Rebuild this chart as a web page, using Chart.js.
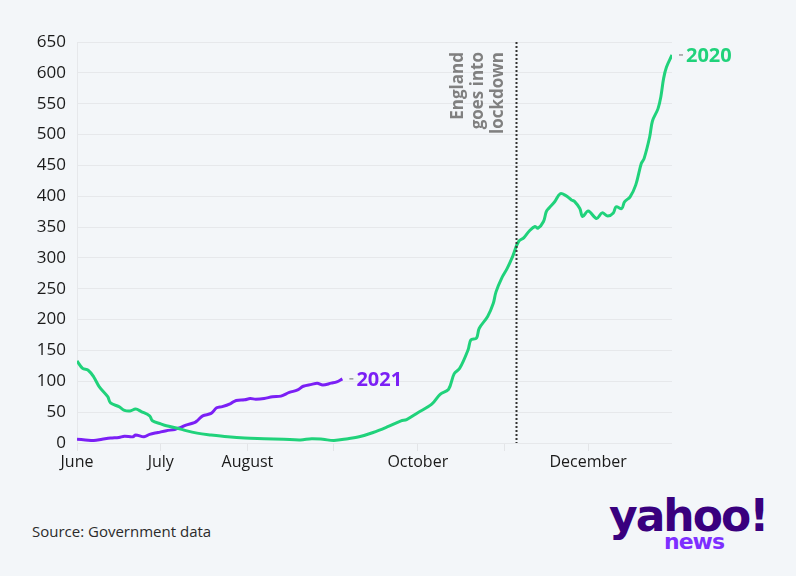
<!DOCTYPE html>
<html lang="en">
<head>
    <meta charset="UTF-8">
    <title>Cases 2020 vs 2021</title>
    <script src="https://cdn.jsdelivr.net/npm/chart.js"></script>
    <style>
        * { margin: 0; padding: 0; box-sizing: border-box; }
        body {
            width: 796px;
            height: 576px;
            background: #f3f6f9;
            position: relative;
            overflow: hidden;
            font-family: 'Open Sans', sans-serif;
        }
        .chart-box {
            position: absolute;
            left: 0;
            top: 0;
            width: 796px;
            height: 480px;
        }
        .source {
            position: absolute;
            left: 32px;
            top: 521px;
            font-size: 15px;
            color: #2b2b2b;
        }
        .logo {
            position: absolute;
            left: 609px;
            top: 494px;
            width: 170px;
            line-height: 1;
        }
        .logo .yahoo {
            font-family: 'DejaVu Sans', sans-serif;
            font-weight: bold;
            font-size: 44px;
            color: #39007e;
            letter-spacing: -2px;
            display: block;
        }
        .logo .news {
            font-family: 'DejaVu Sans', sans-serif;
            font-weight: bold;
            font-size: 22px;
            color: #7d2eff;
            display: block;
            margin-top: -7px;
            margin-left: 55px;
            letter-spacing: -1px;
        }
    </style>
</head>
<body>
    <div class="chart-box">
        <canvas id="casesChart"></canvas>
    </div>
    <div class="source">Source: Government data</div>
    <div class="logo"><span class="yahoo">yahoo!</span><span class="news">news</span></div>

    <script>
        // days counted from 1 June
        const days2020 = [0, 2, 4, 6, 8, 11, 12, 15, 17, 19, 21, 23, 26, 27, 30, 32, 36, 39, 43, 48, 54, 60, 67, 74, 80, 84, 88, 92, 97, 101, 106, 111, 116, 118, 122, 127, 130, 133, 135, 137, 140, 141, 143, 144, 147, 149, 150, 152, 154, 156, 158, 160, 162, 164, 165, 167, 168, 169, 171, 173, 175, 177, 178, 180, 181, 183, 186, 188, 190, 192, 193, 195, 196, 198, 200, 202, 203, 205, 206, 208, 209, 210, 211, 213];
        const values2020 = [133, 121, 118, 107, 91, 75, 65, 59, 53, 52, 55, 51, 44, 36, 31, 28, 24, 20, 16, 13, 10, 8, 7, 6, 5, 7, 6, 4, 7, 10, 17, 26, 36, 38, 49, 63, 79, 87, 112, 121, 151, 167, 170, 186, 205, 226, 245, 267, 283, 303, 326, 333, 344, 351, 348, 359, 375, 381, 391, 404, 401, 394, 392, 380, 367, 376, 364, 373, 368, 373, 383, 380, 391, 399, 418, 453, 461, 496, 522, 542, 561, 591, 609, 629];

        const days2021 = [0, 3, 6, 9, 12, 15, 17, 20, 21, 24, 26, 29, 32, 35, 37, 39, 42, 43, 45, 48, 50, 52, 55, 57, 60, 62, 64, 67, 70, 73, 76, 79, 81, 84, 86, 88, 91, 93, 95];
        const values2021 = [6, 5, 4, 6, 8, 9, 11, 10, 13, 10, 14, 17, 20, 22, 25, 29, 33, 36, 44, 48, 57, 59, 64, 69, 70, 72, 71, 72, 75, 76, 82, 86, 92, 95, 97, 94, 97, 99, 104];

        const monthDays = [0, 30, 61, 92, 122, 153, 183];
        const monthLabels = ['June', 'July', 'August', '', 'October', '', 'December'];
        const yTicks = [0, 50, 100, 150, 200, 250, 300, 350, 400, 450, 500, 550, 600, 650];

        const lockdownDay = 157;
        const lockdownText = ['England', 'goes into', 'lockdown'];

        const green = '#20d27b';
        const purple = '#7b1ff5';

        const toPoints = (xs, ys) => xs.map((d, i) => ({ x: d, y: ys[i] }));

        const endLabels = {
            id: 'endLabels',
            afterDatasetsDraw(chart) {
                const ctx = chart.ctx;
                ctx.save();
                chart.data.datasets.forEach((ds, i) => {
                    const meta = chart.getDatasetMeta(i);
                    const last = meta.data[meta.data.length - 1];
                    ctx.strokeStyle = '#9a9a9a';
                    ctx.lineWidth = 1.5;
                    ctx.beginPath();
                    ctx.moveTo(last.x + 7, last.y);
                    ctx.lineTo(last.x + 11, last.y);
                    ctx.stroke();
                    ctx.font = 'bold 20px "Open Sans"';
                    ctx.fillStyle = ds.borderColor;
                    ctx.textAlign = 'left';
                    ctx.textBaseline = 'middle';
                    ctx.fillText(ds.label, last.x + 14, last.y + 1);
                });
                ctx.restore();
            }
        };

        const lockdownLine = {
            id: 'lockdownLine',
            afterDatasetsDraw(chart) {
                const ctx = chart.ctx;
                const area = chart.chartArea;
                const x = Math.round(chart.scales.x.getPixelForValue(lockdownDay)) + 0.5;
                ctx.save();
                ctx.strokeStyle = '#333';
                ctx.lineWidth = 2;
                ctx.setLineDash([2, 2]);
                ctx.beginPath();
                ctx.moveTo(x, area.top);
                ctx.lineTo(x, area.bottom);
                ctx.stroke();
                ctx.setLineDash([]);

                ctx.font = 'bold 17px "Open Sans"';
                ctx.fillStyle = '#808080';
                ctx.textAlign = 'right';
                ctx.textBaseline = 'middle';
                lockdownText.forEach((line, i) => {
                    ctx.save();
                    ctx.translate(x - 58 + i * 20, area.top + 10);
                    ctx.rotate(-Math.PI / 2);
                    ctx.fillText(line, 0, 0);
                    ctx.restore();
                });
                ctx.restore();
            }
        };

        new Chart(document.getElementById('casesChart'), {
            type: 'line',
            data: {
                datasets: [
                    {
                        label: '2020',
                        data: toPoints(days2020, values2020),
                        borderColor: green,
                        borderWidth: 3,
                        pointRadius: 0,
                        tension: 0.35
                    },
                    {
                        label: '2021',
                        data: toPoints(days2021, values2021),
                        borderColor: purple,
                        borderWidth: 3,
                        pointRadius: 0,
                        tension: 0.35
                    }
                ]
            },
            options: {
                responsive: true,
                maintainAspectRatio: false,
                animation: false,
                layout: {
                    padding: { top: 42, right: 124, left: 0, bottom: 0 }
                },
                plugins: {
                    legend: { display: false },
                    tooltip: { enabled: false }
                },
                scales: {
                    x: {
                        type: 'linear',
                        min: 0,
                        max: 213,
                        afterBuildTicks: (scale) => {
                            scale.ticks = monthDays.map(v => ({ value: v }));
                        },
                        afterFit: (scale) => { scale.height = 37; },
                        ticks: {
                            autoSkip: false,
                            maxRotation: 0,
                            padding: 2,
                            color: '#1a1a1a',
                            font: { family: 'Open Sans', size: 16 },
                            callback: (v) => monthLabels[monthDays.indexOf(v)]
                        },
                        grid: {
                            drawOnChartArea: false,
                            drawTicks: true,
                            tickLength: 8,
                            color: '#e3e5e8'
                        },
                        border: { display: false }
                    },
                    y: {
                        min: 0,
                        max: 650,
                        afterBuildTicks: (scale) => {
                            scale.ticks = yTicks.map(v => ({ value: v }));
                        },
                        afterFit: (scale) => { scale.width = 77; },
                        ticks: {
                            padding: 11,
                            color: '#1a1a1a',
                            font: { family: 'Open Sans', size: 17 }
                        },
                        grid: {
                            drawTicks: false,
                            color: '#e6e8eb',
                            lineWidth: 1
                        },
                        border: { display: true, color: '#e6e8eb' }
                    }
                }
            },
            plugins: [lockdownLine, endLabels]
        });
    </script>
</body>
</html>
